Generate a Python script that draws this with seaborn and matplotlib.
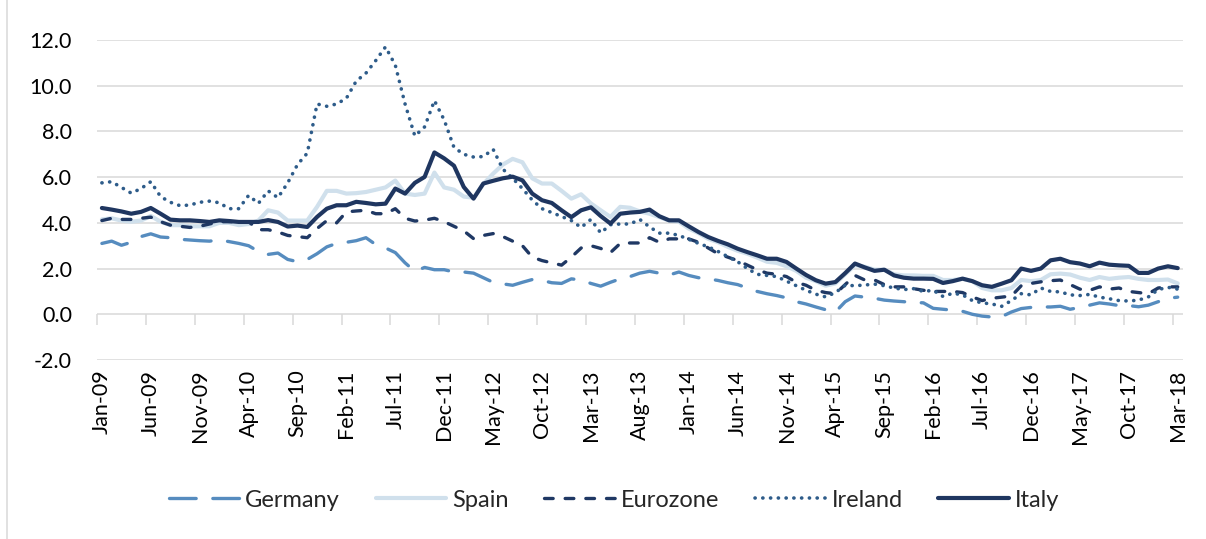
import numpy as np
import pandas as pd
import matplotlib
matplotlib.use('Agg')
import matplotlib.pyplot as plt
import seaborn as sns
from matplotlib.patches import Rectangle

# monthly 10y yields, Jan-09 .. Mar-18
months = pd.date_range('2009-01-01', periods=111, freq='MS').strftime('%b-%y').tolist()

germany = [3.10, 3.20, 3.02, 3.15, 3.40, 3.52, 3.38, 3.35, 3.28, 3.25,
           3.22, 3.20, 3.25, 3.18, 3.10, 3.00, 2.75, 2.62, 2.68, 2.40,
           2.30, 2.40, 2.65, 2.95, 3.10, 3.15, 3.22, 3.35, 3.05, 2.90,
           2.70, 2.25, 1.88, 2.05, 1.95, 1.95, 1.85, 1.85, 1.80, 1.60,
           1.40, 1.33, 1.27, 1.40, 1.52, 1.48, 1.38, 1.35, 1.55, 1.50,
           1.35, 1.23, 1.40, 1.55, 1.65, 1.80, 1.88, 1.80, 1.72, 1.85,
           1.70, 1.60, 1.55, 1.48, 1.38, 1.30, 1.15, 1.00, 0.90, 0.82,
           0.72, 0.55, 0.45, 0.32, 0.20, 0.10, 0.55, 0.80, 0.75, 0.70,
           0.62, 0.58, 0.55, 0.52, 0.50, 0.26, 0.22, 0.18, 0.13, 0.00,
           -0.08, -0.12, -0.10, 0.10, 0.25, 0.30, 0.32, 0.32, 0.35, 0.22,
           0.30, 0.40, 0.50, 0.45, 0.38, 0.38, 0.33, 0.40, 0.55, 0.70, 0.75]

spain = [4.15, 4.20, 4.10, 4.05, 4.10, 4.30, 4.05, 3.90, 3.90, 3.85,
         3.85, 3.85, 4.00, 4.00, 3.90, 3.95, 4.10, 4.55, 4.45, 4.10,
         4.10, 4.10, 4.70, 5.40, 5.40, 5.28, 5.30, 5.35, 5.45, 5.55,
         5.85, 5.28, 5.22, 5.28, 6.20, 5.55, 5.45, 5.15, 5.10, 5.70,
         6.15, 6.55, 6.80, 6.65, 5.95, 5.72, 5.72, 5.40, 5.06, 5.25,
         4.85, 4.55, 4.26, 4.70, 4.66, 4.50, 4.40, 4.25, 4.10, 4.05,
         3.75, 3.55, 3.30, 3.15, 2.95, 2.78, 2.65, 2.48, 2.30, 2.25,
         2.10, 1.90, 1.60, 1.45, 1.25, 1.35, 1.75, 2.15, 2.08, 1.95,
         1.95, 1.75, 1.70, 1.70, 1.68, 1.68, 1.50, 1.50, 1.55, 1.45,
         1.15, 1.05, 1.05, 1.15, 1.50, 1.45, 1.50, 1.75, 1.78, 1.74,
         1.60, 1.50, 1.63, 1.55, 1.60, 1.63, 1.55, 1.50, 1.50, 1.52, 1.35]

eurozone = [4.10, 4.20, 4.15, 4.15, 4.20, 4.25, 4.05, 3.90, 3.85, 3.80,
            3.85, 3.95, 4.05, 4.05, 4.05, 4.05, 3.70, 3.70, 3.60, 3.45,
            3.40, 3.35, 3.75, 4.10, 4.00, 4.48, 4.52, 4.55, 4.40, 4.40,
            4.62, 4.20, 4.08, 4.12, 4.20, 4.05, 3.85, 3.65, 3.31, 3.45,
            3.53, 3.40, 3.20, 3.00, 2.50, 2.35, 2.25, 2.15, 2.50, 2.90,
            3.00, 2.88, 2.70, 3.10, 3.12, 3.12, 3.35, 3.15, 3.30, 3.30,
            3.30, 3.15, 2.90, 2.65, 2.50, 2.35, 2.15, 1.95, 1.80, 1.75,
            1.65, 1.40, 1.27, 1.05, 0.95, 0.90, 1.30, 1.70, 1.50, 1.50,
            1.30, 1.20, 1.20, 1.12, 1.05, 1.00, 1.00, 1.00, 0.95, 0.76,
            0.60, 0.70, 0.75, 0.80, 1.25, 1.35, 1.42, 1.47, 1.50, 1.30,
            1.10, 1.05, 1.20, 1.10, 1.15, 1.00, 0.95, 0.90, 1.15, 1.20, 1.20]

ireland = [5.75, 5.80, 5.55, 5.30, 5.50, 5.80, 5.15, 4.90, 4.75, 4.78,
           4.90, 4.95, 4.88, 4.62, 4.62, 5.20, 4.85, 5.40, 5.10, 5.75,
           6.55, 7.05, 9.20, 9.10, 9.20, 9.45, 10.20, 10.55, 11.10, 11.70,
           10.90, 9.20, 7.80, 8.20, 9.35, 8.50, 7.30, 7.00, 6.88, 6.90,
           7.22, 6.35, 5.95, 5.50, 5.00, 4.62, 4.45, 4.28, 4.10, 3.80,
           4.15, 3.56, 3.92, 3.95, 3.95, 4.15, 3.82, 3.55, 3.55, 3.45,
           3.28, 3.10, 2.95, 2.75, 2.52, 2.30, 2.00, 1.75, 1.70, 1.65,
           1.45, 1.25, 1.05, 0.88, 0.76, 0.95, 1.27, 1.25, 1.28, 1.32,
           1.25, 1.15, 1.08, 1.12, 1.00, 1.05, 0.78, 0.92, 0.85, 0.60,
           0.50, 0.45, 0.35, 0.60, 0.90, 0.85, 1.15, 1.00, 0.98, 0.85,
           0.82, 0.87, 0.75, 0.68, 0.60, 0.58, 0.62, 0.76, 1.08, 1.18, 1.10]

italy = [4.65, 4.58, 4.50, 4.40, 4.48, 4.65, 4.40, 4.14, 4.11, 4.11,
         4.08, 4.04, 4.11, 4.08, 4.04, 4.04, 4.04, 4.12, 4.04, 3.84,
         3.88, 3.82, 4.26, 4.62, 4.77, 4.77, 4.92, 4.87, 4.81, 4.84,
         5.50, 5.28, 5.75, 6.01, 7.08, 6.82, 6.50, 5.57, 5.06, 5.72,
         5.84, 5.95, 6.02, 5.86, 5.28, 4.99, 4.87, 4.55, 4.25, 4.55,
         4.68, 4.30, 3.97, 4.40, 4.45, 4.48, 4.58, 4.29, 4.11, 4.11,
         3.85, 3.60, 3.38, 3.21, 3.06, 2.87, 2.72, 2.58, 2.43, 2.43,
         2.29, 2.00, 1.72, 1.49, 1.34, 1.41, 1.80, 2.22, 2.05, 1.90,
         1.95, 1.70, 1.60, 1.56, 1.56, 1.55, 1.37, 1.45, 1.56, 1.45,
         1.27, 1.20, 1.34, 1.49, 2.00, 1.90, 2.00, 2.36, 2.43, 2.28,
         2.22, 2.10, 2.26, 2.17, 2.14, 2.12, 1.81, 1.81, 2.00, 2.10, 2.02]

series = ['Germany', 'Spain', 'Eurozone', 'Ireland', 'Italy']
values = [germany, spain, eurozone, ireland, italy]
colors = ['#568CBF', '#D0E0EC', '#1F3864', '#2E5C8A', '#1F3660']
widths = [2.4, 3.0, 2.4, 2.6, 3.0]
styles = [(0, (8, 5)), '-', (0, (2.6, 3.6)), (0, (0.05, 2.1)), '-']

sns.set_style('white')
plt.rcParams['font.family'] = ['Lato', 'DejaVu Sans']

fig = plt.figure(figsize=(12.06, 5.39), dpi=100)
ax = fig.add_axes([97 / 1206, 1 - 360 / 539, (1182.6 - 97) / 1206, 320 / 539])

x = np.arange(len(months))
for name, vals, c, lw, ls in zip(series, values, colors, widths, styles):
    sns.lineplot(x=x, y=vals, ax=ax, color=c, linewidth=lw, linestyle=ls,
                 dash_capstyle='round', label=name)

ax.set_xlim(-0.5, 110.5)
ax.set_ylim(-2, 12)
yt = np.arange(-2, 13, 2)
ax.set_yticks(yt)
ax.set_yticklabels([f'{v:.1f}' for v in yt])
ax.yaxis.grid(True, color='#D9D9D9', linewidth=1.1)
ax.xaxis.grid(False)
ax.set_axisbelow(True)
for s in ax.spines.values():
    s.set_visible(False)
ax.tick_params(axis='y', length=0, pad=18, labelsize=15.5, labelcolor='#000000')
ax.set_xticks(x[::5])
ax.set_xticklabels(months[::5], rotation=90)
ax.tick_params(axis='x', length=0, pad=7, labelsize=15.5, labelcolor='#000000')

# tick marks on the zero line
sec = ax.secondary_xaxis(2 / 14)
sec.set_xticks(np.arange(-0.5, 111, 5))
sec.set_xticklabels([])
sec.tick_params(length=8, width=1.1, color='#D9D9D9', direction='out')
sec.spines['bottom'].set_visible(False)
sec.spines['top'].set_visible(False)

ax.get_legend().remove()
h, l = ax.get_legend_handles_labels()
fig.legend(h, l, loc='center', bbox_to_anchor=(0.509, 0.072), ncol=5,
           frameon=False, fontsize=17, handlelength=3.0, handletextpad=0.25,
           columnspacing=1.5)

fig.patches.append(Rectangle((7 / 1206, -0.01), 1.1, 1.02, transform=fig.transFigure,
                             fill=False, edgecolor='#D9D9D9', linewidth=1.1))

fig.savefig('out.png', dpi=100)
